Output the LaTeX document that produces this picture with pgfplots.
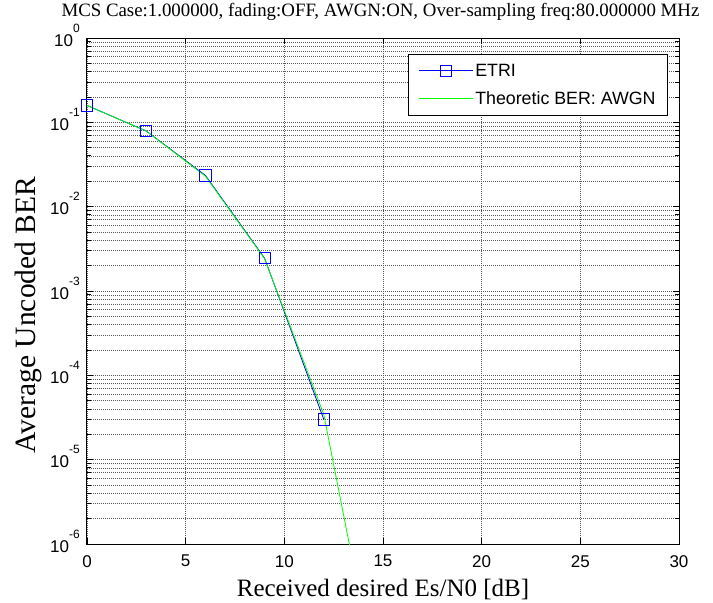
\documentclass[border=0pt]{standalone}
\usepackage{fontspec}
\setmainfont{Liberation Serif}
\newfontfamily\arialfont{Liberation Sans}
\usepackage{pgfplots}
\usepackage{pgfplotstable}
\pgfplotsset{compat=1.18}

% simulated uncoded BER (QPSK, AWGN channel)
\pgfplotstableread{
snr ber
0  0.1585
3  0.0790
6  0.0235
9  0.00245
12 3.0e-5
}\etri

% theoretic BER, Q(sqrt(Es/N0)), at the same Es/N0 steps
\pgfplotstableread{
snr ber
0  0.158655
3  0.078896
6  0.023007
9  0.0024133
12 3.43e-5
15 9.35e-9
}\theory

\newcommand\tenexp[1]{10\raisebox{14pt}{\fontsize{12}{12}\selectfont #1}}

\begin{document}
\begin{tikzpicture}
\begin{semilogyaxis}[
  scale only axis,
  width=592pt, height=506pt,
  xmin=0, xmax=30, ymin=1e-6, ymax=1,
  xtick={0,5,...,30},
  ytick={1e-6,1e-5,1e-4,1e-3,1e-2,1e-1,1},
  yticklabels={\tenexp{-6},\tenexp{-5},\tenexp{-4},\tenexp{-3},\tenexp{-2},\tenexp{-1},\tenexp{0}},
  /pgf/number format/assume math mode=true,
  tick align=inside,
  major tick length=6pt, minor tick length=4pt,
  every tick/.style={black, line width=0.8pt},
  axis line style={line width=1pt},
  xmajorgrids, ymajorgrids, yminorgrids,
  major grid style={black!65, line width=0.6pt, dash pattern=on 1pt off 1pt},
  minor grid style={black!65, line width=0.6pt, dash pattern=on 1pt off 1pt},
  xticklabel style={font=\arialfont\fontsize{17}{17}\selectfont, inner sep=0pt, anchor=north, yshift=-11pt},
  yticklabel style={font=\arialfont\fontsize{17}{17}\selectfont, inner sep=0pt, anchor=base east, xshift=-7pt, yshift=-8pt},
  title={MCS Case:1.000000, fading:OFF, AWGN:ON, Over-sampling freq:80.000000 MHz},
  title style={font=\fontsize{18.85}{18.85}\selectfont, at={(axis description cs:0.5,1.0316)}, anchor=base, inner sep=0pt, xshift=-2.5pt},
  xlabel={Received desired Es/N0 [dB]},
  xlabel style={font=\fontsize{25}{25}\selectfont, at={(axis description cs:0.5,-0.1028)}, anchor=base, inner sep=0pt},
  ylabel={Average Uncoded BER},
  ylabel style={font=\fontsize{29.5}{29.5}\selectfont, at={(axis description cs:-0.0997,0.4526)}, anchor=center, rotate=0, inner sep=0pt},
  legend cell align=left,
  legend image code/.code={\draw[mark repeat=2,mark phase=2,#1] plot coordinates {(0pt,0pt) (27pt,0pt) (54pt,0pt)};},
  legend style={at={(rel axis cs:1,1)}, anchor=north east, xshift=-11pt, yshift=-16pt,
    draw=black, line width=0.8pt, fill=white,
    font=\arialfont\fontsize{17.8}{17.8}\selectfont,
    inner xsep=10pt, inner ysep=7.5pt, row sep=10pt,
    nodes={inner sep=2pt}},
]
\addplot[blue, line width=0.8pt, mark=square, mark size=5.6pt, mark options={solid, line width=0.8pt}] table[x=snr, y=ber] {\etri};
\addlegendentry{ETRI}
\addplot[green, line width=0.8pt] table[x=snr, y=ber] {\theory};
\addlegendentry{Theoretic BER: AWGN}
\end{semilogyaxis}
\pgfresetboundingbox
\path (-87pt,-59pt) rectangle (626pt,544pt);
\end{tikzpicture}
\end{document}
